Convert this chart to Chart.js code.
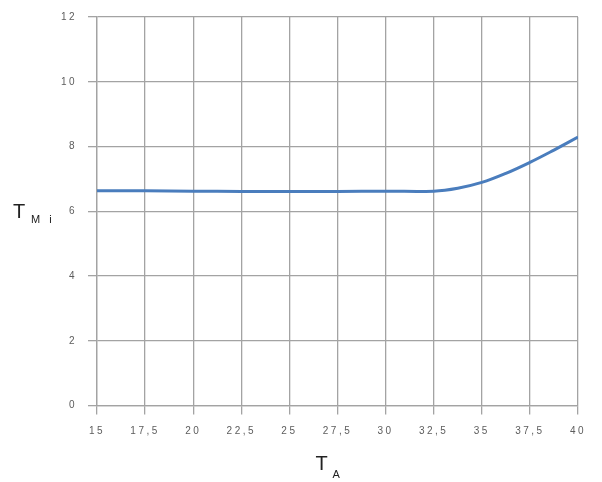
<!DOCTYPE html>
<html>
<head>
<meta charset="utf-8">
<script src="https://cdn.jsdelivr.net/npm/chart.js@4"></script>
<style>
  html, body { margin: 0; padding: 0; background: #fff; }
</style>
</head>
<body>
<canvas id="tmiChart" width="602" height="482"></canvas>
<script>
// ambient temperature T_A and resulting T_Mi
const tempA = [15, 17.5, 20, 22.5, 25, 27.5, 30, 32.5, 33.75, 35, 36.25, 37.5, 38.75, 40];
const tmiValues = [6.63, 6.63, 6.62, 6.61, 6.61, 6.61, 6.62, 6.62, 6.71, 6.89, 7.17, 7.51, 7.89, 8.29];
const yTicks = [0, 2, 4, 6, 8, 10, 12];

const gridColor = '#a3a3a3';
const tickFont = { family: "'Liberation Sans', Arial, sans-serif", size: 10 };

// spaced-out tick digits, as in the original
function spaceLetters(chart) {
    chart.ctx.letterSpacing = '2.5px';
    chart.ctx.font = "10px 'Liberation Sans', Arial, sans-serif";
}

// subscript axis titles (T_Mi and T_A)
const axisTitles = {
    id: 'axisTitles',
    beforeLayout: spaceLetters,
    beforeDraw: spaceLetters,
    afterDraw(chart) {
        const ctx = chart.ctx;
        const area = chart.chartArea;
        ctx.save();
        ctx.fillStyle = '#222';
        ctx.textBaseline = 'alphabetic';
        ctx.textAlign = 'left';

        ctx.letterSpacing = '0px';
        ctx.font = "20px 'Liberation Sans', Arial, sans-serif";
        ctx.fillText('T', 13, 218);
        ctx.letterSpacing = '3px';
        ctx.font = "11px 'Liberation Sans', Arial, sans-serif";
        ctx.fillText('M i', 31, 223);

        const cx = (area.left + area.right) / 2;
        ctx.letterSpacing = '0px';
        ctx.font = "20px 'Liberation Sans', Arial, sans-serif";
        ctx.fillText('T', cx - 22, 470);
        ctx.font = "11px 'Liberation Sans', Arial, sans-serif";
        ctx.fillText('A', cx - 5, 478);
        ctx.restore();
    }
};

const ctx = document.getElementById('tmiChart').getContext('2d');
new Chart(ctx, {
    type: 'line',
    data: {
        datasets: [{
            label: 'T Mi',
            data: tempA.map((x, i) => ({ x: x, y: tmiValues[i] })),
            borderColor: '#4a7dbd',
            borderWidth: 3,
            pointRadius: 0,
            fill: false,
            tension: 0.4
        }]
    },
    options: {
        responsive: false,
        animation: false,
        devicePixelRatio: 1,
        layout: { padding: { top: 15, right: 24, left: 0, bottom: 0 } },
        plugins: {
            legend: { display: false },
            tooltip: { enabled: false }
        },
        scales: {
            x: {
                type: 'linear',
                min: 15,
                max: 40,
                afterFit: s => { s.height = 76.5; },
                ticks: {
                    stepSize: 2.5,
                    padding: 11,
                    color: '#5c5c5c',
                    font: tickFont,
                    maxRotation: 0,
                    callback: v => String(v).replace('.', ',')
                },
                grid: { color: gridColor, lineWidth: 1.3, tickLength: 9, tickColor: gridColor },
                border: { color: gridColor, width: 1.3 }
            },
            y: {
                type: 'linear',
                min: yTicks[0],
                max: yTicks[yTicks.length - 1],
                afterFit: s => { s.width = 97; },
                afterBuildTicks: s => { s.ticks = yTicks.map(v => ({ value: v })); },
                ticks: {
                    padding: 11,
                    color: '#5c5c5c',
                    font: tickFont
                },
                grid: { color: gridColor, lineWidth: 1.3, tickLength: 9, tickColor: gridColor },
                border: { color: gridColor, width: 1.3 }
            }
        }
    },
    plugins: [axisTitles]
});
</script>
</body>
</html>
